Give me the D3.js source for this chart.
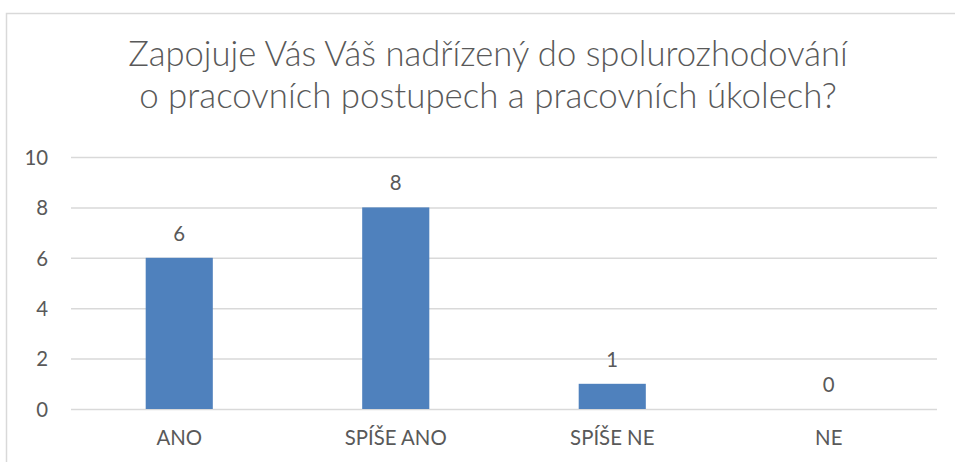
<!DOCTYPE html>
<html><head><meta charset="utf-8">
<script src="https://cdn.jsdelivr.net/npm/d3@7"></script>
<style>
html,body{margin:0;padding:0;background:#fff;}
svg{display:block;}
text{font-family:Lato,"Open Sans",sans-serif;fill:#595959;}
</style></head>
<body>
<svg id="chart" width="955" height="462"></svg>
<script>
const titleLines = ["Zapojuje Vás Váš nadřízený do spolurozhodování", "o pracovních postupech a pracovních úkolech?"];
const categories = ["ANO", "SPÍŠE ANO", "SPÍŠE NE", "NE"];
const values = [6, 8, 1, 0];
const yTicks = [0, 2, 4, 6, 8, 10];

const W = 955, H = 462;
const svg = d3.select("#chart");
const margin = {left: 71, right: 18, top: 157, bottom: 53};
const FONT = "Lato, 'Open Sans', sans-serif";

// fit small label size so "SPÍŠE ANO" is ~102px wide
const probe = svg.append("text").attr("font-size", 18).style("font-family", FONT).text("SPÍŠE ANO");
const labelSize = 18 * 102 / probe.node().getComputedTextLength();
probe.remove();

// chart frame (cropped)
svg.append("path").attr("d", `M6.5,${H} V13.5 H${W}`)
  .attr("fill", "none").attr("stroke", "#d9d9d9").attr("stroke-width", 1.5);

const x = d3.scaleBand().domain(categories)
  .range([margin.left, W - margin.right]).paddingInner(0.69).paddingOuter(0.345);
const y = d3.scaleLinear().domain([0, 10]).range([H - margin.bottom, margin.top]);

// gridlines
const grid = d3.axisLeft(y).tickValues(yTicks).tickSize(-(W - margin.right - margin.left)).tickFormat("");
const gg = svg.append("g").attr("transform", `translate(${margin.left},0)`).call(grid);
gg.select(".domain").remove();
gg.selectAll("line").attr("stroke", "#d9d9d9").attr("stroke-width", 1.5);

// y axis labels
const ya = d3.axisLeft(y).tickValues(yTicks).tickSize(0).tickPadding(23);
const yg = svg.append("g").attr("transform", `translate(${margin.left},0)`).call(ya);
yg.select(".domain").remove();
yg.selectAll("text").attr("font-size", labelSize).attr("fill", "#595959")
  .style("font-family", FONT).attr("dy", "0.36em");

// x axis labels
const xa = d3.axisBottom(x).tickSize(0).tickPadding(22);
const xg = svg.append("g").attr("transform", `translate(0,${H - margin.bottom})`).call(xa);
xg.select(".domain").remove();
xg.selectAll("text").attr("font-size", labelSize).attr("fill", "#595959")
  .style("font-family", FONT);

// bars
const data = categories.map((c, i) => ({c, v: values[i]}));
svg.append("g").selectAll("rect").data(data).join("rect")
  .attr("x", d => x(d.c)).attr("width", x.bandwidth())
  .attr("y", d => y(d.v)).attr("height", d => y(0) - y(d.v))
  .attr("fill", "#4f81bd");

// data labels
svg.append("g").selectAll("text").data(data).join("text")
  .attr("x", d => x(d.c) + x.bandwidth() / 2)
  .attr("y", d => y(d.v) - 17)
  .attr("text-anchor", "middle").attr("font-size", labelSize)
  .text(d => d.v);

// title
const targetW = [720, 698];
const baselines = [66, 108];
titleLines.forEach((t, i) => {
  const tx = svg.append("text").attr("x", (128 + 848) / 2).attr("y", baselines[i])
    .attr("text-anchor", "middle").attr("font-size", 31).attr("font-weight", 300).text(t);
  const w = tx.node().getComputedTextLength();
  tx.attr("font-size", 31 * targetW[i] / w);
});
</script>
</body></html>
